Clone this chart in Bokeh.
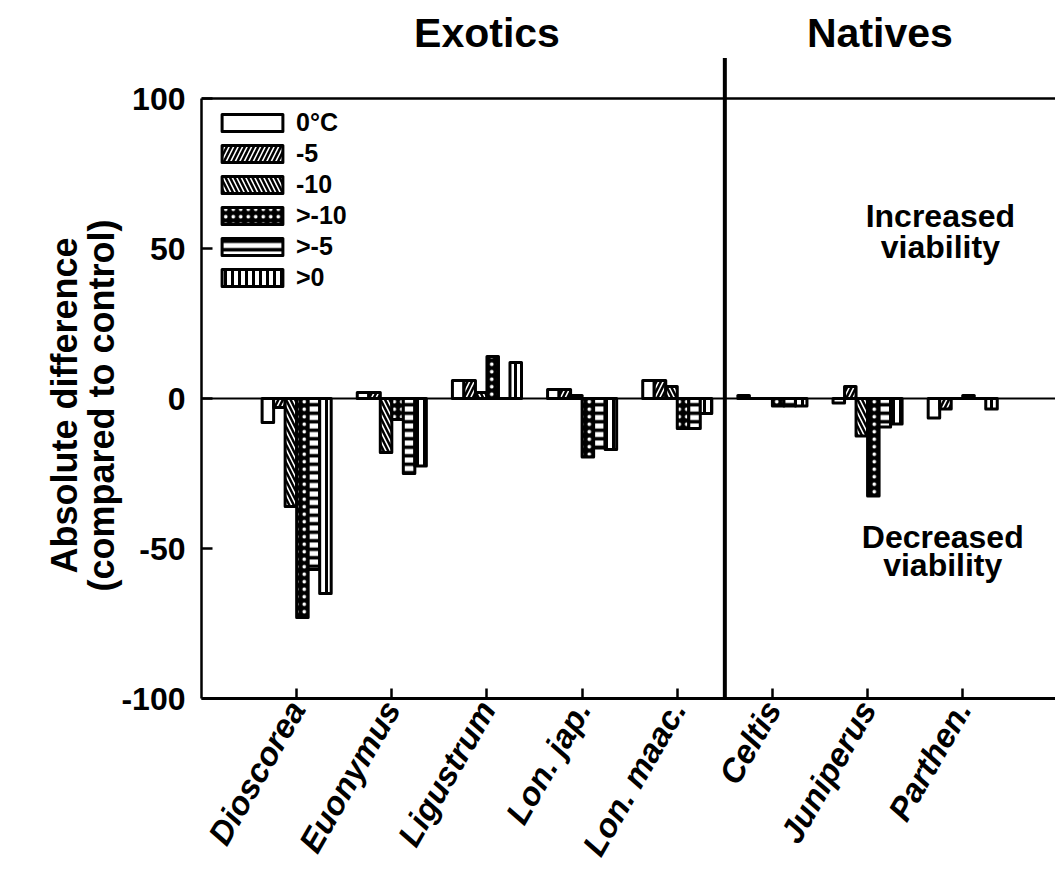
import math
from bokeh.plotting import figure
from bokeh.models import Range1d, FixedTicker, Legend, LegendItem, Title
from bokeh.embed import file_html
from bokeh.resources import INLINE
from bokeh.core.properties import value

# ---------------- data ----------------
species = ["Dioscorea", "Euonymus", "Ligustrum", "Lon. jap.", "Lon. maac.",
           "Celtis", "Juniperus", "Parthen."]
treatments = ["0°C", "-5", "-10", ">-10", ">-5", ">0"]
t_0C   = [-8, 2, 6, 3, 6, 1, -1.5, -6.5]
t_m5   = [-3, 2, 6, 3, 6, 0, 4, -3.5]
t_m10  = [-36, -18, 2, 1, 4, 0, -12.5, 0]
t_gm10 = [-73, -7, 14, -19.5, -10, -2.5, -32.5, 1]
t_gm5  = [-57, -25, 0, -16.5, -10, -2.5, -9.5, 0]
t_g0   = [-65, -22.5, 12, -17, -5, -2.5, -8.5, -3.5]
series = [t_0C, t_m5, t_m10, t_gm10, t_gm5, t_g0]
group_titles = ["Exotics", "Natives"]
y_ticks = [-100, -50, 0, 50, 100]
y_tick_labels = ["-100", "-50", "0", "50", "100"]
y_label_lines = ["Absolute difference", "(compared to control)"]
note_up = ["Increased", "viability"]
note_down = ["Decreased", "viability"]

FONT = "Liberation Sans"

# pattern styles per treatment
styles = [
    dict(fill_color="white"),
    dict(fill_color="black", hatch_pattern="/", hatch_color="white", hatch_weight=1.6, hatch_scale=9),
    dict(fill_color="black", hatch_pattern="\\", hatch_color="white", hatch_weight=1.6, hatch_scale=9),
    dict(fill_color="black", hatch_pattern=".", hatch_color="white", hatch_weight=1.4, hatch_scale=7.5),
    dict(fill_color="white", hatch_pattern="-", hatch_color="black", hatch_weight=3.5, hatch_scale=8.5),
    dict(fill_color="white", hatch_pattern="|", hatch_color="black", hatch_weight=3, hatch_scale=7),
]

p = figure(width=1055, height=874, output_backend="svg", toolbar_location=None,
           x_range=Range1d(0, 8.975), y_range=Range1d(-100, 130),
           min_border_left=201, min_border_right=0, min_border_top=8, min_border_bottom=176)
p.xgrid.visible = False
p.ygrid.visible = False
p.outline_line_color = None
p.background_fill_color = "white"
p.border_fill_color = "white"

# zero line, frame top line, divider
p.segment(x0=[0], x1=[9.5], y0=[0], y1=[0], line_color="black", line_width=2.2)
p.segment(x0=[0], x1=[9.5], y0=[100], y1=[100], line_color="black", line_width=2.5)
p.segment(x0=[5.5], x1=[5.5], y0=[-100], y1=[113.5], line_color="black", line_width=4)

bw = 0.121
items = []
for j, (name, vals, st) in enumerate(zip(treatments, series, styles)):
    xs = [i + 1 + (j - 2.5) * bw for i in range(len(species))]
    r = p.vbar(x=xs, top=vals, bottom=0, width=bw, line_color="black",
               line_width=3, line_join="round", **st)
    items.append(LegendItem(label=name, renderers=[r]))

legend = Legend(items=items, location=(13, 406), padding=0, margin=0,
                glyph_width=76, glyph_height=21, label_standoff=6, spacing=2,
                label_text_font=FONT, label_text_font_size="25px",
                label_text_font_style="bold", label_text_color="black",
                border_line_color=None, background_fill_alpha=0)
p.add_layout(legend)

# titles and notes
p.text(x=[3.0, 7.13], y=[121.7, 121.7], text=group_titles,
       text_font=value(FONT), text_font_size="41px", text_font_style="bold",
       text_align="center", text_baseline="alphabetic", text_color="black")
p.text(x=[7.765, 7.765], y=[61.0, 50.6], text=note_up,
       text_font=value(FONT), text_font_size="32px", text_font_style="bold",
       text_align="center", text_baseline="alphabetic", text_color="black")
p.text(x=[7.79, 7.79], y=[-46.0, -55.6], text=note_down,
       text_font=value(FONT), text_font_size="32px", text_font_style="bold",
       text_align="center", text_baseline="alphabetic", text_color="black")

# y axis
ya = p.yaxis[0]
ya.ticker = FixedTicker(ticks=y_ticks)
ya.major_label_overrides = {t: s for t, s in zip(y_ticks, y_tick_labels)}
ya.bounds = (-100, 100)
ya.axis_line_width = 2.5
ya.major_tick_line_width = 2.5
ya.major_tick_in = 11
ya.major_tick_out = 0
ya.minor_tick_line_color = None
ya.major_label_standoff = 16
ya.major_label_text_font = FONT
ya.major_label_text_font_size = "32px"
ya.major_label_text_font_style = "bold"
ya.major_label_text_color = "black"

# y axis title: two lines as left-side titles, centred near y = 0
for txt, off in [(y_label_lines[1], 107), (y_label_lines[0], 125)]:
    p.add_layout(Title(text=txt, align="left", offset=off, standoff=-6,
                       text_font=FONT, text_font_size="36px", text_font_style="bold",
                       text_color="black"), "left")

# x axis
xa = p.xaxis[0]
xa.ticker = FixedTicker(ticks=list(range(1, len(species) + 1)))
xa.major_label_overrides = {i + 1: s for i, s in enumerate(species)}
xa.axis_line_width = 3
xa.major_tick_line_width = 2.5
xa.major_tick_in = 10
xa.major_tick_out = 0
xa.minor_tick_line_color = None
xa.major_label_orientation = math.pi / 3
xa.major_label_standoff = 5
xa.major_label_text_font = FONT
xa.major_label_text_font_size = "33px"
xa.major_label_text_font_style = "bold italic"
xa.major_label_text_color = "black"

open("out.html", "w").write(file_html(p, INLINE))
